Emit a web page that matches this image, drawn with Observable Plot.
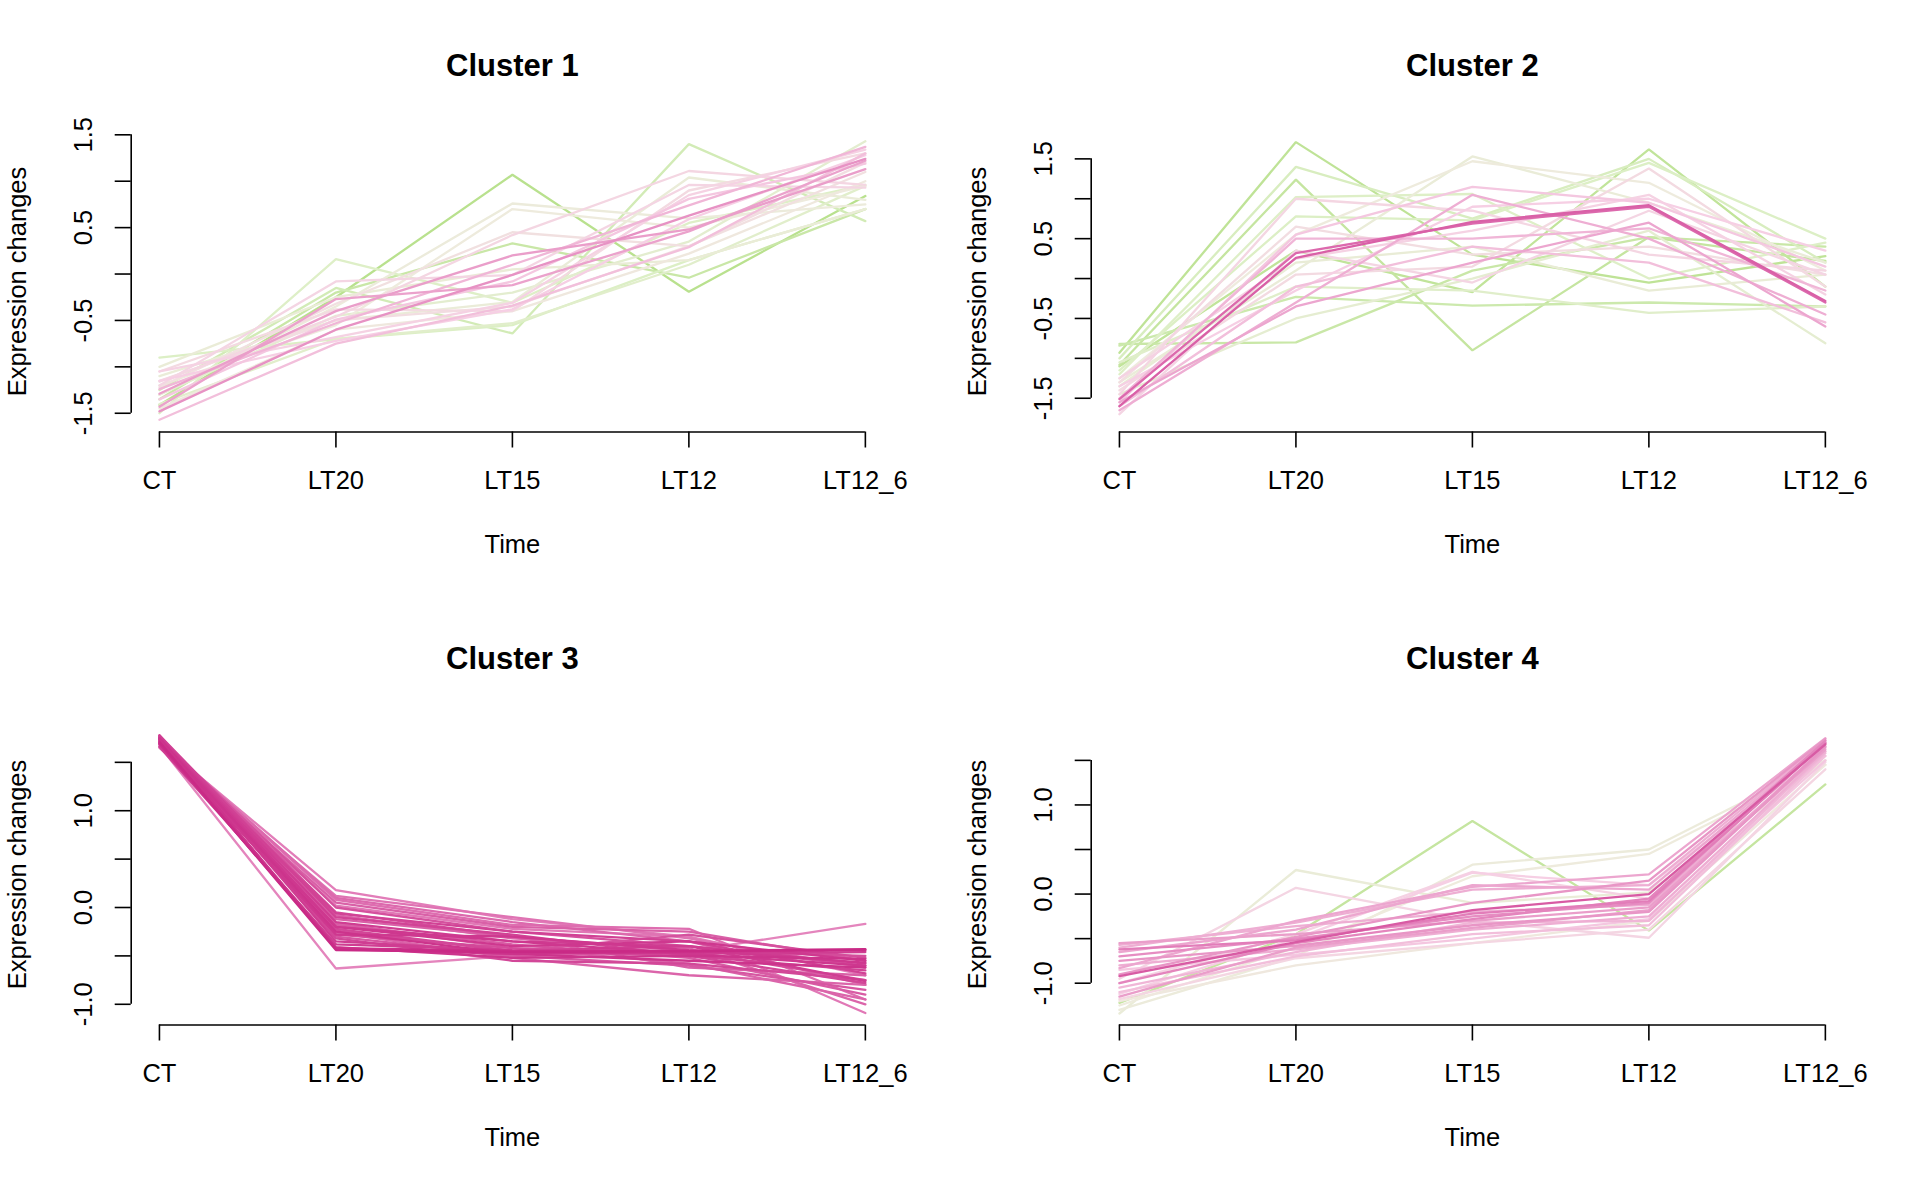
<!DOCTYPE html>
<html>
<head>
<meta charset="utf-8">
<script src="https://cdn.jsdelivr.net/npm/d3@7"></script>
<script src="https://cdn.jsdelivr.net/npm/@observablehq/plot@0.6"></script>
<style>
  html, body { margin: 0; padding: 0; background: #ffffff; }
  #grid { display: grid; grid-template-columns: 960px 960px; width: 1920px; }
  #grid svg { display: block; }
</style>
</head>
<body>
<div id="grid"></div>
<script>
// ---- data ----
const timeLabels = ["CT", "LT20", "LT15", "LT12", "LT12_6"];
const clusterTitles = ["Cluster 1", "Cluster 2", "Cluster 3", "Cluster 4"];

const cluster1Values = [
  [-1.48, -0.60, -0.01, 0.63, 1.24],
  [-1.29, -0.40, 0.20, 0.48, 1.13],
  [-1.43, -0.27, -0.12, 0.46, 1.22],
  [-1.20, -0.08, -0.01, 0.96, 0.93],
  [-1.16, -0.46, 0.42, 1.11, 0.96],
  [-1.57, -0.75, -0.34, 0.29, 1.30],
  [-1.05, -0.68, -0.31, 0.85, 1.34],
  [-1.24, -0.53, 0.10, 0.74, 1.37],
  [-1.15, -0.72, -0.38, 0.59, 1.28],
  [-1.35, -0.49, -0.08, 0.81, 1.19],
  [-1.41, -0.25, 1.07, -0.19, 0.84],
  [-0.90, -0.70, -0.55, 0.15, 0.70],
  [-1.50, 0.16, -0.31, 0.55, 0.96],
  [-1.25, -0.15, -0.64, 1.40, 0.57],
  [-1.30, -0.35, 0.76, 0.60, 0.75],
  [-1.20, -0.55, 0.70, 0.50, 0.95],
  [-1.35, -0.20, 0.33, -0.04, 0.70],
  [-1.10, -0.50, -0.30, 1.04, 0.80],
  [-1.45, -0.60, -0.40, 0.22, 1.00],
  [-1.30, -0.45, -0.20, 0.35, 1.43],
  [-1.00, -0.25, 0.05, 0.15, 0.70],
  [-1.15, -0.50, -0.35, 0.30, 1.20],
  [-1.40, -0.70, -0.53, 0.10, 0.95],
  [-1.22, -0.32, 0.45, 0.30, 1.10],
  [-1.05, -0.38, -0.40, 0.90, 1.30]
];
const cluster1Membership = [0.75, 0.72, 0.71, 0.56, 0.55, 0.64, 0.58, 0.66, 0.60, 0.62,
  0.02, 0.20, 0.22, 0.15, 0.38, 0.40, 0.10, 0.36, 0.42, 0.28, 0.35, 0.50, 0.25, 0.48, 0.52];

const cluster2Values = [
  [-1.60, 0.26, 0.71, 0.92, -0.28],
  [-1.51, 0.32, 0.69, 0.90, -0.30],
  [-0.93, 1.71, 0.30, -0.05, 0.28],
  [-1.08, 1.24, -0.90, 0.52, 0.22],
  [-0.82, -0.80, 0.10, 0.52, 0.40],
  [-0.84, -0.23, -0.34, -0.30, -0.35],
  [-1.00, 1.40, 0.75, 1.50, 0.20],
  [-1.10, 0.35, -0.17, 1.62, -0.10],
  [-1.20, 1.02, 1.06, 0.00, 0.45],
  [-1.30, 0.10, 1.53, 0.95, 0.20],
  [-1.25, 0.55, 1.47, 1.20, 0.10],
  [-1.45, -0.50, 0.00, 0.60, -0.81],
  [-1.15, 0.78, 0.73, 1.45, 0.50],
  [-1.05, -0.10, -0.15, -0.43, -0.35],
  [-1.35, 0.20, 0.40, -0.15, 0.05],
  [-1.45, 1.00, 0.85, 0.30, 0.10],
  [-1.55, 0.55, 1.15, 0.95, 0.15],
  [-1.50, 0.50, 0.50, 0.63, -0.15],
  [-1.35, -0.15, 0.90, 1.00, 0.35],
  [-1.40, 0.05, 0.15, 1.38, -0.10],
  [-1.60, -0.10, 0.40, 0.20, -0.55],
  [-1.30, 0.65, 0.30, 0.40, 0.05],
  [-1.65, -0.30, 1.05, 0.50, -0.45],
  [-1.25, 0.25, 0.60, 1.05, -0.20],
  [-1.70, 0.35, -0.05, 0.85, 0.05],
  [-1.55, -0.35, 0.20, 0.70, -0.60]
];
const cluster2Membership = [0.86, 0.84, 0.05, 0.08, 0.10, 0.12, 0.18, 0.06, 0.22, 0.36,
  0.40, 0.30, 0.20, 0.24, 0.34, 0.55, 0.62, 0.66, 0.60, 0.52, 0.64, 0.50, 0.68, 0.58, 0.56, 0.70];

const cluster3Values = [
  [1.70, 0.18, -0.12, -0.30, -0.70],
  [1.72, 0.10, -0.15, -0.35, -0.80],
  [1.68, 0.05, -0.20, -0.25, -0.55],
  [1.75, 0.00, -0.25, -0.40, -0.60],
  [1.74, -0.05, -0.30, -0.45, -0.75],
  [1.78, -0.10, -0.28, -0.50, -0.65],
  [1.76, -0.15, -0.35, -0.40, -0.58],
  [1.72, -0.20, -0.40, -0.35, -0.55],
  [1.70, -0.22, -0.45, -0.50, -0.78],
  [1.74, -0.25, -0.48, -0.55, -0.62],
  [1.77, -0.28, -0.42, -0.45, -0.50],
  [1.73, -0.30, -0.50, -0.60, -0.85],
  [1.69, -0.42, -0.45, -0.45, -0.44],
  [1.71, -0.44, -0.46, -0.45, -0.43],
  [1.75, -0.43, -0.48, -0.46, -0.44],
  [1.66, -0.38, -0.44, -0.48, -0.46],
  [1.67, -0.63, -0.50, -0.45, -0.17],
  [1.72, 0.08, -0.18, -0.22, -0.95],
  [1.65, 0.02, -0.22, -0.30, -1.09],
  [1.70, -0.08, -0.32, -0.42, -1.00],
  [1.76, -0.18, -0.38, -0.52, -0.90],
  [1.74, -0.12, -0.30, -0.62, -0.70],
  [1.71, -0.26, -0.52, -0.70, -0.80],
  [1.78, -0.24, -0.45, -0.28, -0.52],
  [1.73, -0.32, -0.55, -0.58, -0.75],
  [1.69, -0.06, -0.25, -0.35, -0.68],
  [1.75, -0.20, -0.35, -0.48, -0.60],
  [1.77, -0.35, -0.45, -0.40, -0.76],
  [1.66, 0.12, -0.10, -0.32, -0.62],
  [1.72, -0.16, -0.42, -0.58, -0.95],
  [1.74, -0.41, -0.52, -0.50, -0.53],
  [1.70, -0.28, -0.30, -0.44, -0.57]
];
const cluster3Membership = [0.80, 0.84, 0.86, 0.89, 0.90, 0.92, 0.93, 0.94, 0.91, 0.95,
  0.90, 0.88, 0.96, 0.97, 0.95, 0.93, 0.78, 0.83, 0.81, 0.85, 0.87, 0.86, 0.85, 0.89, 0.91,
  0.92, 0.94, 0.93, 0.82, 0.85, 0.95, 0.94];

const cluster4Values = [
  [-0.92, -0.54, -0.18, 0.00, 1.68],
  [-0.83, -0.30, 0.08, 0.22, 1.75],
  [-0.60, -0.32, 0.05, 0.10, 1.72],
  [-0.55, -0.45, -0.30, -0.15, 1.62],
  [-0.70, -0.50, -0.25, -0.10, 1.70],
  [-0.75, -0.58, -0.35, -0.20, 1.65],
  [-0.80, -0.62, -0.40, -0.25, 1.60],
  [-1.00, -0.55, -0.28, -0.05, 1.72],
  [-1.05, -0.65, -0.32, -0.30, 1.58],
  [-1.10, -0.70, -0.45, -0.35, 1.55],
  [-1.15, -0.60, -0.38, -0.18, 1.66],
  [-0.65, -0.40, 0.10, 0.05, 1.70],
  [-0.90, -0.48, -0.10, 0.15, 1.74],
  [-0.57, -0.36, -0.20, -0.12, 1.64],
  [-0.85, -0.68, -0.50, -0.28, 1.50],
  [-0.95, 0.07, -0.30, -0.49, 1.48],
  [-1.00, -0.45, 0.25, -0.05, 1.55],
  [-1.18, -0.72, -0.55, -0.40, 1.40],
  [-1.22, -0.45, 0.82, -0.41, 1.23],
  [-1.34, 0.27, -0.10, 0.02, 1.50],
  [-1.30, -0.70, 0.33, 0.50, 1.50],
  [-1.25, -0.60, 0.20, 0.45, 1.45],
  [-1.12, -0.50, 0.24, 0.10, 1.60],
  [-1.20, -0.80, -0.55, -0.30, 1.45],
  [-0.62, -0.52, -0.22, -0.08, 1.69]
];
const cluster4Membership = [0.87, 0.70, 0.68, 0.72, 0.76, 0.74, 0.68, 0.78, 0.66, 0.64,
  0.72, 0.70, 0.74, 0.68, 0.62, 0.56, 0.58, 0.55, 0.08, 0.36, 0.38, 0.40, 0.60, 0.42, 0.80];

// axis limits (R "usr" extents) and ticks
const yLimits = [[-1.702, 1.540], [-1.923, 1.848], [-1.214, 1.895], [-1.469, 1.907]];
const yTicksWide = [-1.5, -1.0, -0.5, 0.0, 0.5, 1.0, 1.5];
const yLabelsWide = [-1.5, -0.5, 0.5, 1.5];
const yTicksNarrow = [-1.0, -0.5, 0.0, 0.5, 1.0, 1.5];
const yLabelsNarrow = [-1.0, 0.0, 1.0];

// membership colour ramp
const memberStops = [0, 0.2, 0.4, 0.6, 0.8, 1];
const memberColors = ["#B5DF88", "#DCEFC5", "#EEEBDD", "#F6CFE4", "#E27DB9", "#C51B7D"];

// ---- drawing ----
const font = "'Liberation Sans', Arial, Helvetica, sans-serif";

function panel(title, values, membership, yDomain, yTicks, yLabels) {
  const order = d3.range(values.length).sort((a, b) => membership[a] - membership[b]);
  const rows = [];
  for (const i of order) values[i].forEach((v, j) => rows.push({id: i, t: j + 1, v, m: membership[i]}));
  const n = timeLabels.length;
  const pad = (n - 1) * 0.04;
  return Plot.plot({
    width: 960,
    height: 593,
    marginLeft: 130.7,
    marginRight: 66.9,
    marginTop: 130.6,
    marginBottom: 161.5,
    x: {domain: [1 - pad, n + pad]},
    y: {domain: yDomain},
    color: {type: "linear", domain: memberStops, range: memberColors},
    style: {fontFamily: font, fontSize: "25.5px", background: "#ffffff", color: "#000000"},
    marks: [
      Plot.line(rows, {x: "t", y: "v", z: "id", stroke: "m", strokeWidth: 2.3, strokeLinejoin: "miter"}),
      Plot.ruleX([1 - pad], {y1: yTicks[0], y2: yTicks[yTicks.length - 1], stroke: "#000", strokeWidth: 1.6}),
      Plot.ruleY([yDomain[0]], {x1: 1, x2: n, stroke: "#000", strokeWidth: 1.6}),
      Plot.axisX(d3.range(1, n + 1), {tickSize: 16, tickFormat: () => "", strokeWidth: 1.6, label: null}),
      Plot.axisY(yTicks, {tickSize: 16, tickFormat: () => "", strokeWidth: 1.6, label: null}),
      Plot.text(timeLabels, {x: (d, i) => i + 1, text: d => d, frameAnchor: "bottom", dy: 49, lineAnchor: "middle", textAnchor: "middle"}),
      Plot.text(yLabels, {y: d => d, text: d => d.toFixed(1), frameAnchor: "left", dx: -47.4, rotate: -90, textAnchor: "middle", lineAnchor: "middle"}),
      Plot.text(["Time"], {text: d => d, frameAnchor: "bottom", dy: 113, lineAnchor: "middle", textAnchor: "middle"}),
      Plot.text(["Expression changes"], {text: d => d, frameAnchor: "left", dx: -113.5, rotate: -90, textAnchor: "middle", lineAnchor: "middle"}),
      Plot.text([title], {text: d => d, frameAnchor: "top", dy: -65, lineAnchor: "middle", textAnchor: "middle", fontWeight: "bold", fontSize: 31})
    ]
  });
}

const grid = document.getElementById("grid");
grid.appendChild(panel(clusterTitles[0], cluster1Values, cluster1Membership, yLimits[0], yTicksWide, yLabelsWide));
grid.appendChild(panel(clusterTitles[1], cluster2Values, cluster2Membership, yLimits[1], yTicksWide, yLabelsWide));
grid.appendChild(panel(clusterTitles[2], cluster3Values, cluster3Membership, yLimits[2], yTicksNarrow, yLabelsNarrow));
grid.appendChild(panel(clusterTitles[3], cluster4Values, cluster4Membership, yLimits[3], yTicksNarrow, yLabelsNarrow));
</script>
</body>
</html>
